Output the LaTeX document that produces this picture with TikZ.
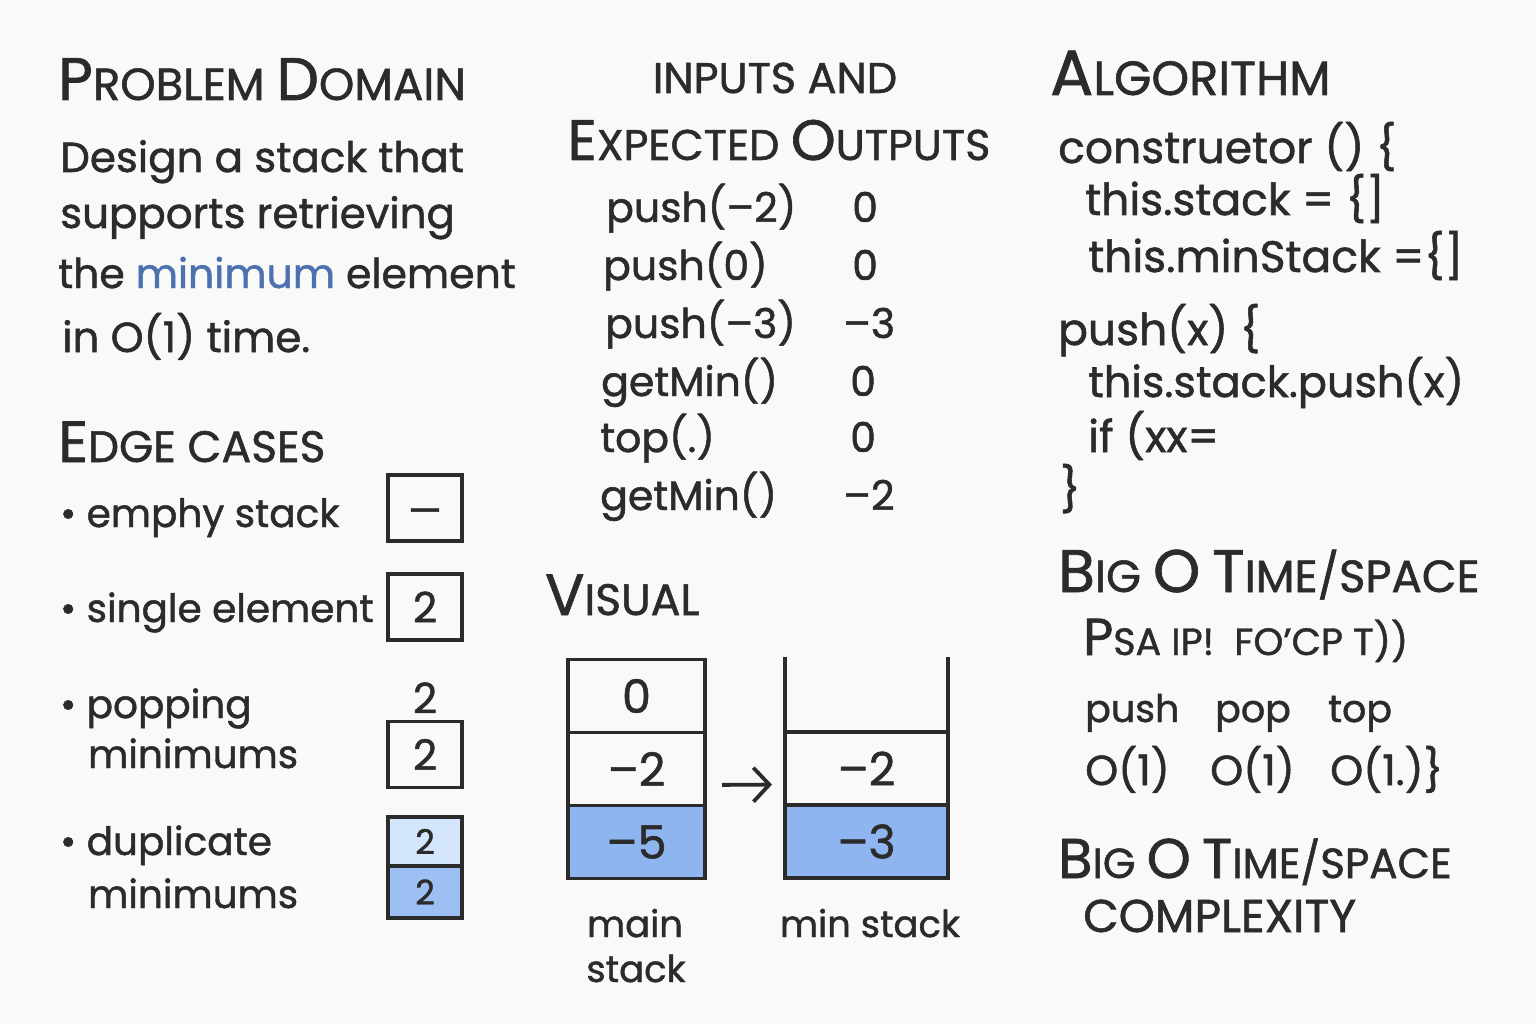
\documentclass[tikz,border=0pt]{standalone}
\usepackage{fontspec}
\setmainfont{Poppins}[FakeBold = 1.2]
\usetikzlibrary{positioning, arrows.meta}
\definecolor{paper}{HTML}{F9F9F7}
\definecolor{ink}{HTML}{2B2B2B}
\definecolor{minblue}{HTML}{8FB5F0}
\definecolor{paleblue}{HTML}{D3E6FC}
\definecolor{dupblue}{HTML}{9CC0F4}
\definecolor{wordblue}{HTML}{4C70B0}
\newcommand{\hbig}[1]{{\fontsize{\headB}{\headB}\selectfont #1}}
\newcommand{\sz}[1]{\fontsize{#1}{#1}\selectfont}

\tikzset{
  txt/.style = {anchor = base west, inner sep = 0pt, text = ink, font = \sz{#1}},
  txt/.default = 41,
  head/.style 2 args = {anchor = base west, inner sep = 0pt, text = ink, font = \def\headB{#1}\sz{#2}},
  cell/.style = {draw = ink, line width = 3.5pt, outer sep = 0pt, minimum width = 137pt, minimum height = 73pt, text = ink, font = \sz{46}},
  casebox/.style = {draw = ink, line width = 3.5pt, outer sep = 0pt, minimum width = 74pt, minimum height = 66pt, text = ink, font = \sz{42}},
  stackline/.style = {draw = ink, line width = 3.5pt},
  flow/.style = {draw = ink, line width = 3.8pt, -{Straight Barb[length = 16pt, width = 34pt]}}
}

\begin{document}
\begin{tikzpicture}[x = 1pt, y = -1pt]
\useasboundingbox[fill = paper] (0, 0) rectangle (1536, 1024);

% problem domain
\node (probhead) [head = {60}{45}] at (58, 100) {\hbig{P}ROBLEM \hbig{D}OMAIN};
\node (prob1) [txt = 42] at (60, 172) {Design a stack that};
\node (prob2) [txt = 42] at (60, 228) {supports retrieving};
\node (prob3) [txt] at (58, 288) {the \textcolor{wordblue}{minimum} element};
\node (prob4) [txt = 42] at (62, 352) {in O(1) time.};

% edge cases
\node (edgehead) [head = {58}{44}] at (58, 462) {\hbig{E}DGE CASES};
\node (caseempty) [txt = 39] at (60, 527) {\textbullet\ emphy stack};
\node (casesingle) [txt = 39] at (60, 622) {\textbullet\ single element};
\node (casepop) [txt = 39] at (60, 718) {\textbullet\ popping};
\node (casepop2) [txt = 39] at (88, 768) {minimums};
\node (casedup) [txt = 39] at (60, 855) {\textbullet\ duplicate};
\node (casedup2) [txt = 39] at (88, 908) {minimums};

\node (boxempty) [casebox, font = \sz{38}] at (425, 508) {\raisebox{-16pt}[0pt][0pt]{---}};
\node (boxsingle) [casebox] at (425, 607) {2};
\node (boxpop) [casebox] at (425, 754.5) {2};
\node (poptwo) [inner sep = 0pt, text = ink, font = \sz{42}, above = 8pt of boxpop] {2};
\node (dupupper) [casebox, minimum height = 49pt, fill = paleblue, font = \sz{34}] at (425, 841.5) {2};
\node (duplower) [casebox, minimum height = 52pt, fill = dupblue, font = \sz{34}, below = 0pt of dupupper] {2};

% inputs and outputs
\node (iohead) [head = {43}{43}, anchor = base] at (775, 93) {INPUTS AND};
\node (iohead2) [head = {57}{43}, anchor = base] at (779, 160) {\hbig{E}XPECTED \hbig{O}UTPUTS};
\node (call1) [txt] at (606, 222) {push(--2)};
\node (call2) [txt] at (603, 280) {push(0)};
\node (call3) [txt] at (605, 338) {push(--3)};
\node (call4) [txt] at (601, 396) {getMin()};
\node (call5) [txt] at (600, 452) {top(.)};
\node (call6) [txt] at (600, 510) {getMin()};
\node (res1) [txt] at (852, 222) {0};
\node (res2) [txt] at (852, 280) {0};
\node (res3) [txt] at (843, 338) {--3};
\node (res4) [txt] at (850, 396) {0};
\node (res5) [txt] at (850, 452) {0};
\node (res6) [txt] at (843, 510) {--2};

% visual
\node (vishead) [head = {58}{44}] at (545, 615) {\hbig{V}ISUAL};
\node (mtop) [cell] at (636.5, 696) {0};
\node (mmid) [cell, below = 0pt of mtop] {--2};
\node (mbot) [cell, fill = minblue, below = 0pt of mmid] {--5};

\node (minmid) [cell, minimum width = 163pt] at (866.5, 768.5) {--2};
\node (minbot) [cell, minimum width = 163pt, fill = minblue, below = 0pt of minmid] {--3};
\node (mintop) [minimum width = 163pt, minimum height = 75pt, outer sep = 0pt, above = 0pt of minmid] {};
\draw[stackline] (mintop.south west) -- (mintop.north west);
\draw[stackline] (mintop.south east) -- (mintop.north east);

\draw[flow, shorten <= 17pt, shorten >= 13pt] ([yshift = -16pt] mmid.east) -- ([yshift = -16pt] minmid.west);

\node (mainlabel) [txt = 37, anchor = base] at (635, 937) {main};
\node (mainlabel2) [txt = 37, anchor = base] at (636, 982) {stack};
\node (minlabel) [txt = 37, anchor = base] at (870, 937) {min stack};

% algorithm
\node (alghead) [head = {64}{48}] at (1050, 95) {\hbig{A}LGORITHM};
\node (code1) [txt = 44] at (1058, 163) {construetor () \{};
\node (code2) [txt = 44] at (1085, 215) {this.stack = \{]};
\node (code3) [txt = 44] at (1088, 272) {this.minStack =\{]};
\node (code4) [txt = 44] at (1058, 345) {push(x) \{};
\node (code5) [txt = 43] at (1088, 397) {this.stack.push(x)};
\node (code6) [txt = 44] at (1088, 452) {if (xx=};
\node (code7) [txt = 44] at (1060, 505) {\}};

% big o
\node (bighead) [head = {60}{45}] at (1058, 592) {\hbig{B}IG \hbig{O} \hbig{T}IME/SPACE};
\node (garbled) [head = {52}{38}] at (1083, 655) {\hbig{P}SA IP! \ FO'CP T))};
\node (oppush) [txt = 38] at (1085, 722) {push};
\node (oppop) [txt = 38] at (1215, 722) {pop};
\node (optop) [txt = 38] at (1328, 722) {top};
\node (costpush) [txt = 42] at (1085, 785) {O(1)};
\node (costpop) [txt = 42] at (1210, 785) {O(1)};
\node (costtop) [txt = 42] at (1330, 785) {O(1.)\}};
\node (bighead2) [head = {56}{42}] at (1058, 878) {\hbig{B}IG \hbig{O} \hbig{T}IME/SPACE};
\node (complex) [head = {46}{46}] at (1083, 932) {COMPLEXITY};

\end{tikzpicture}
\end{document}
